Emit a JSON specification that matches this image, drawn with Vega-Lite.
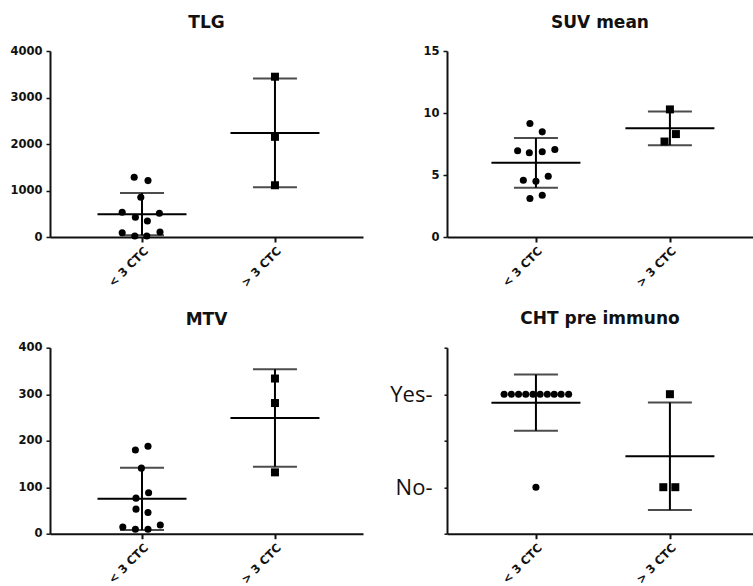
{
  "$schema": "https://vega.github.io/schema/vega-lite/v6.json",
  "background": "white",
  "padding": {"left": 0, "top": 14, "right": 0, "bottom": 0},
  "columns": 2,
  "align": "each",
  "spacing": {"row": 20.7, "column": 20},
  "config": {
    "view": {"stroke": null},
    "font": "DejaVu Sans",
    "title": {"fontSize": 17, "fontWeight": "bold", "font": "DejaVu Sans", "color": "#111111", "anchor": "middle", "frame": "group", "offset": 13},
    "axis": {"domainColor": "#111111", "domainWidth": 2, "tickColor": "#111111", "labelColor": "#111111", "labelFont": "DejaVu Sans", "labelFontWeight": "bold", "labelFontSize": 11.5, "grid": false},
    "axisX": {"labelAngle": -45, "tickSize": 5, "tickWidth": 2, "labelPadding": 3},
    "axisY": {"tickSize": 4, "tickWidth": 1.5, "labelPadding": 4}
  },
  "datasets": {
    "tlg": [
      {"group": "< 3 CTC", "value": 1286, "slot": -1.3},
      {"group": "< 3 CTC", "value": 1213, "slot": 1},
      {"group": "< 3 CTC", "value": 855, "slot": -0.2},
      {"group": "< 3 CTC", "value": 532, "slot": -3.3},
      {"group": "< 3 CTC", "value": 511, "slot": 2.9},
      {"group": "< 3 CTC", "value": 424, "slot": -1.1},
      {"group": "< 3 CTC", "value": 345, "slot": 0.9},
      {"group": "< 3 CTC", "value": 93, "slot": -3.3},
      {"group": "< 3 CTC", "value": 108, "slot": 3},
      {"group": "< 3 CTC", "value": 20, "slot": -1.2},
      {"group": "< 3 CTC", "value": 20, "slot": 0.8},
      {"group": "> 3 CTC", "value": 3447, "slot": 0},
      {"group": "> 3 CTC", "value": 2154, "slot": 0},
      {"group": "> 3 CTC", "value": 1113, "slot": 0}
    ],
    "suv": [
      {"group": "< 3 CTC", "value": 9.16, "slot": -1},
      {"group": "< 3 CTC", "value": 8.48, "slot": 1.05},
      {"group": "< 3 CTC", "value": 6.95, "slot": -3.05},
      {"group": "< 3 CTC", "value": 6.79, "slot": -1.1},
      {"group": "< 3 CTC", "value": 6.87, "slot": 1.05},
      {"group": "< 3 CTC", "value": 7.06, "slot": 3.15},
      {"group": "< 3 CTC", "value": 4.58, "slot": -2.1},
      {"group": "< 3 CTC", "value": 4.5, "slot": 0},
      {"group": "< 3 CTC", "value": 4.9, "slot": 2.05},
      {"group": "< 3 CTC", "value": 3.1, "slot": -1},
      {"group": "< 3 CTC", "value": 3.37, "slot": 1.05},
      {"group": "> 3 CTC", "value": 10.29, "slot": 0},
      {"group": "> 3 CTC", "value": 8.3, "slot": 1},
      {"group": "> 3 CTC", "value": 7.7, "slot": -0.9}
    ],
    "mtv": [
      {"group": "< 3 CTC", "value": 180, "slot": -1.1},
      {"group": "< 3 CTC", "value": 188, "slot": 1},
      {"group": "< 3 CTC", "value": 141, "slot": -0.1},
      {"group": "< 3 CTC", "value": 88, "slot": 1.1},
      {"group": "< 3 CTC", "value": 76.5, "slot": -1},
      {"group": "< 3 CTC", "value": 52.8, "slot": -1},
      {"group": "< 3 CTC", "value": 45.4, "slot": 1},
      {"group": "< 3 CTC", "value": 14.5, "slot": -3.2},
      {"group": "< 3 CTC", "value": 9.5, "slot": -1.1},
      {"group": "< 3 CTC", "value": 9.5, "slot": 1},
      {"group": "< 3 CTC", "value": 18.8, "slot": 3.05},
      {"group": "> 3 CTC", "value": 333.7, "slot": 0},
      {"group": "> 3 CTC", "value": 281, "slot": 0},
      {"group": "> 3 CTC", "value": 131.9, "slot": 0}
    ],
    "cht": [
      {"group": "< 3 CTC", "value": 1, "slot": -5.3},
      {"group": "< 3 CTC", "value": 1, "slot": -4.1},
      {"group": "< 3 CTC", "value": 1, "slot": -2.9},
      {"group": "< 3 CTC", "value": 1, "slot": -1.7},
      {"group": "< 3 CTC", "value": 1, "slot": -0.5},
      {"group": "< 3 CTC", "value": 1, "slot": 0.7},
      {"group": "< 3 CTC", "value": 1, "slot": 1.9},
      {"group": "< 3 CTC", "value": 1, "slot": 3.05},
      {"group": "< 3 CTC", "value": 1, "slot": 4.2},
      {"group": "< 3 CTC", "value": 1, "slot": 5.45},
      {"group": "< 3 CTC", "value": 0, "slot": 0},
      {"group": "> 3 CTC", "value": 1, "slot": 0},
      {"group": "> 3 CTC", "value": 0, "slot": -1.1},
      {"group": "> 3 CTC", "value": 0, "slot": 0.9}
    ]
  },
  "concat": [
    {
      "title": "TLG",
      "width": 313, "height": 186,
      "data": {"name": "tlg"},
      "layer": [
        {"mark": {"type": "point", "filled": true, "opacity": 1, "color": "black"},
         "encoding": {
           "x": {"field": "group", "type": "nominal", "scale": {"type": "point", "domain": ["< 3 CTC", "> 3 CTC"], "padding": 0.677, "align": 0.511}, "axis": {"title": null}},
           "xOffset": {"field": "slot", "type": "quantitative", "scale": {"domain": [-6, 6], "range": [-36, 36]}},
           "y": {"field": "value", "type": "quantitative", "scale": {"domain": [0, 4000], "nice": false}, "axis": {"title": null, "values": [0, 1000, 2000, 3000, 4000], "format": "d", "minExtent": 50}},
           "shape": {"field": "group", "type": "nominal", "scale": {"domain": ["< 3 CTC", "> 3 CTC"], "range": ["circle", "square"]}, "legend": null},
           "size": {"field": "group", "type": "ordinal", "scale": {"domain": ["< 3 CTC", "> 3 CTC"], "range": [50, 64]}, "legend": null}
         }},
        {"mark": {"type": "errorbar", "extent": "stdev", "color": "black", "ticks": true, "size": 44, "thickness": 2},
         "encoding": {"x": {"field": "group", "type": "nominal", "title": null}, "y": {"field": "value", "type": "quantitative", "title": null}}},
        {"mark": {"type": "tick", "color": "black", "size": 89, "thickness": 2, "opacity": 1},
         "encoding": {"x": {"field": "group", "type": "nominal", "title": null}, "y": {"aggregate": "mean", "field": "value", "type": "quantitative", "title": null}}}
      ]
    },
    {
      "title": "SUV mean",
      "width": 306, "height": 186,
      "data": {"name": "suv"},
      "layer": [
        {"mark": {"type": "point", "filled": true, "opacity": 1, "color": "black"},
         "encoding": {
           "x": {"field": "group", "type": "nominal", "scale": {"type": "point", "domain": ["< 3 CTC", "> 3 CTC"], "padding": 0.642, "align": 0.517}, "axis": {"title": null}},
           "xOffset": {"field": "slot", "type": "quantitative", "scale": {"domain": [-6, 6], "range": [-36, 36]}},
           "y": {"field": "value", "type": "quantitative", "scale": {"domain": [0, 15], "nice": false}, "axis": {"title": null, "values": [0, 5, 10, 15], "minExtent": 64}},
           "shape": {"field": "group", "type": "nominal", "scale": {"domain": ["< 3 CTC", "> 3 CTC"], "range": ["circle", "square"]}, "legend": null},
           "size": {"field": "group", "type": "ordinal", "scale": {"domain": ["< 3 CTC", "> 3 CTC"], "range": [50, 64]}, "legend": null}
         }},
        {"mark": {"type": "errorbar", "extent": "stdev", "color": "black", "ticks": true, "size": 44, "thickness": 2},
         "encoding": {"x": {"field": "group", "type": "nominal", "title": null}, "y": {"field": "value", "type": "quantitative", "title": null}}},
        {"mark": {"type": "tick", "color": "black", "size": 89, "thickness": 2, "opacity": 1},
         "encoding": {"x": {"field": "group", "type": "nominal", "title": null}, "y": {"aggregate": "mean", "field": "value", "type": "quantitative", "title": null}}}
      ]
    },
    {
      "title": "MTV",
      "width": 313, "height": 186,
      "data": {"name": "mtv"},
      "layer": [
        {"mark": {"type": "point", "filled": true, "opacity": 1, "color": "black"},
         "encoding": {
           "x": {"field": "group", "type": "nominal", "scale": {"type": "point", "domain": ["< 3 CTC", "> 3 CTC"], "padding": 0.677, "align": 0.511}, "axis": {"title": null}},
           "xOffset": {"field": "slot", "type": "quantitative", "scale": {"domain": [-6, 6], "range": [-36, 36]}},
           "y": {"field": "value", "type": "quantitative", "scale": {"domain": [0, 400], "nice": false}, "axis": {"title": null, "values": [0, 100, 200, 300, 400], "minExtent": 50}},
           "shape": {"field": "group", "type": "nominal", "scale": {"domain": ["< 3 CTC", "> 3 CTC"], "range": ["circle", "square"]}, "legend": null},
           "size": {"field": "group", "type": "ordinal", "scale": {"domain": ["< 3 CTC", "> 3 CTC"], "range": [50, 64]}, "legend": null}
         }},
        {"mark": {"type": "errorbar", "extent": "stdev", "color": "black", "ticks": true, "size": 44, "thickness": 2},
         "encoding": {"x": {"field": "group", "type": "nominal", "title": null}, "y": {"field": "value", "type": "quantitative", "title": null}}},
        {"mark": {"type": "tick", "color": "black", "size": 89, "thickness": 2, "opacity": 1},
         "encoding": {"x": {"field": "group", "type": "nominal", "title": null}, "y": {"aggregate": "mean", "field": "value", "type": "quantitative", "title": null}}}
      ]
    },
    {
      "title": {"text": "CHT pre immuno", "offset": 19},
      "width": 306, "height": 186,
      "data": {"name": "cht"},
      "layer": [
        {"mark": {"type": "point", "filled": true, "opacity": 1, "color": "black"},
         "encoding": {
           "x": {"field": "group", "type": "nominal", "scale": {"type": "point", "domain": ["< 3 CTC", "> 3 CTC"], "padding": 0.642, "align": 0.517}, "axis": {"title": null}},
           "xOffset": {"field": "slot", "type": "quantitative", "scale": {"domain": [-6, 6], "range": [-36, 36]}},
           "y": {"field": "value", "type": "quantitative", "scale": {"domain": [-0.5, 1.5], "nice": false}, "axis": {"title": null, "values": [-0.5, 0, 0.5, 1, 1.5], "labelExpr": "datum.value == 1 ? 'Yes-' : (datum.value == 0 ? 'No-' : '')", "labelFont": "Open Sans", "labelFontWeight": "normal", "labelFontSize": 22, "labelPadding": 12, "tickSize": 3, "minExtent": 64}},
           "shape": {"field": "group", "type": "nominal", "scale": {"domain": ["< 3 CTC", "> 3 CTC"], "range": ["circle", "square"]}, "legend": null},
           "size": {"field": "group", "type": "ordinal", "scale": {"domain": ["< 3 CTC", "> 3 CTC"], "range": [50, 64]}, "legend": null}
         }},
        {"mark": {"type": "errorbar", "extent": "stdev", "color": "black", "ticks": true, "size": 44, "thickness": 2},
         "encoding": {"x": {"field": "group", "type": "nominal", "title": null}, "y": {"field": "value", "type": "quantitative", "title": null}}},
        {"mark": {"type": "tick", "color": "black", "size": 89, "thickness": 2, "opacity": 1},
         "encoding": {"x": {"field": "group", "type": "nominal", "title": null}, "y": {"aggregate": "mean", "field": "value", "type": "quantitative", "title": null}}}
      ]
    }
  ]
}
